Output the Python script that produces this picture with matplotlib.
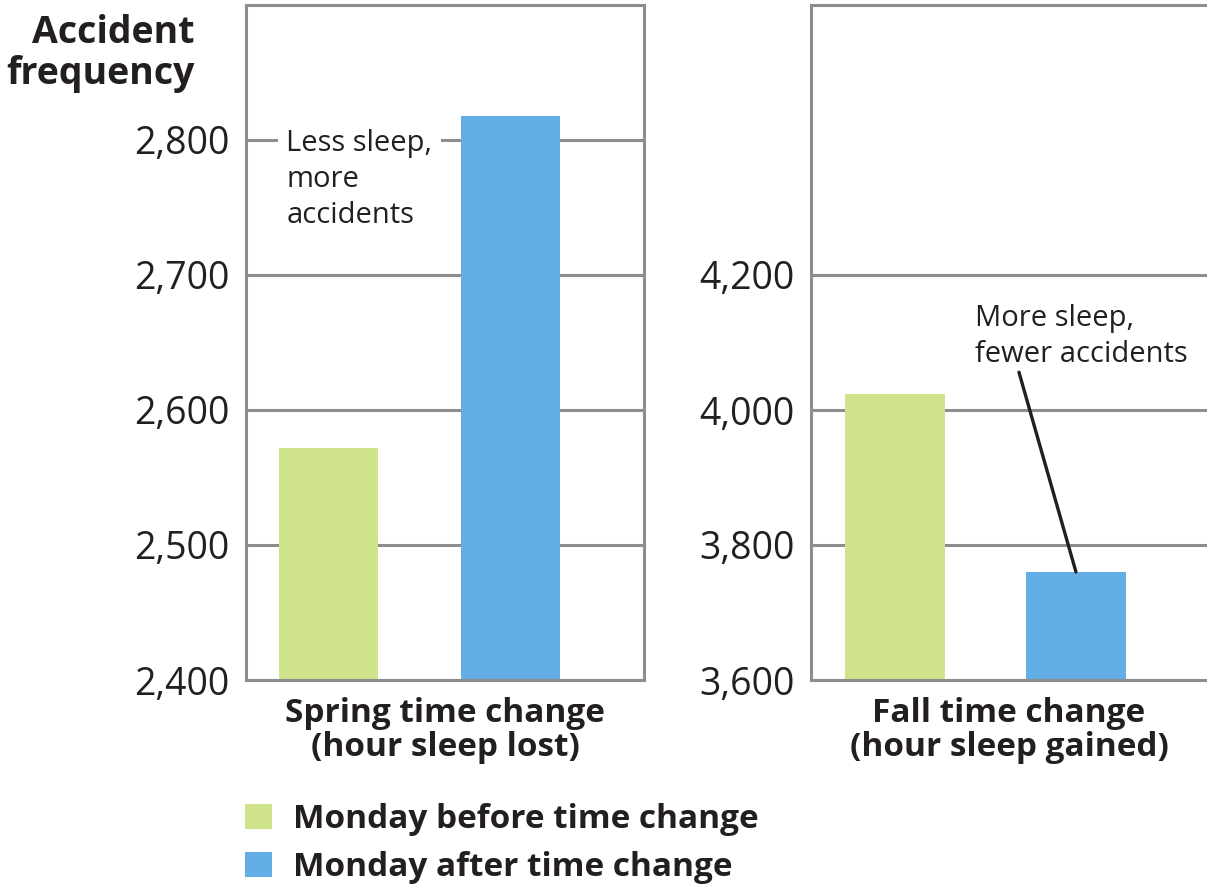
import matplotlib.pyplot as plt
from matplotlib.ticker import FuncFormatter

# accident counts on the Monday before / after each clock change
groups = ["Monday before time change", "Monday after time change"]
spring_counts = [2572, 2818]
fall_counts = [4024, 3760]
spring_ticks = [2400, 2500, 2600, 2700, 2800]
fall_ticks = [3600, 3800, 4000, 4200]

green = "#cfe38b"
blue = "#63aee6"
grey = "#8d8d8d"
ink = "#231f20"

plt.rcParams["font.family"] = ["Open Sans", "DejaVu Sans"]

W, H = 1207, 886
fig = plt.figure(figsize=(W / 100, H / 100), dpi=100)

ax1 = fig.add_axes([246 / W, 1 - 680 / H, (644 - 246) / W, 675 / H])
ax2 = fig.add_axes([811 / W, 1 - 680 / H, (W - 811) / W, 675 / H])

comma = FuncFormatter(lambda v, p: f"{int(v):,}")


def style(ax, ticks, ylim, xlim):
    ax.set_ylim(*ylim)
    ax.set_xlim(*xlim)
    ax.set_yticks(ticks)
    ax.yaxis.set_major_formatter(comma)
    ax.set_xticks([])
    ax.tick_params(axis="y", length=0, pad=12, labelsize=27, labelcolor=ink)
    ax.grid(axis="y", color=grey, linewidth=2.2)
    ax.set_axisbelow(True)
    for s in ax.spines.values():
        s.set_color(grey)
        s.set_linewidth(2.2)


style(ax1, spring_ticks, (2400, 2900), (-0.455, 1.738))
style(ax2, fall_ticks, (3600, 4600), (-0.464, 1.724))
ax2.spines["right"].set_visible(False)

bars = ax1.bar([0, 1], spring_counts, width=0.545, color=[green, blue], zorder=2)
ax2.bar([0, 1], fall_counts, width=0.55, color=[green, blue], zorder=2)

xlab = dict(fontsize=24, fontweight="bold", color=ink, linespacing=1.05, labelpad=12)
ax1.set_xlabel("Spring time change\n(hour sleep lost)", **xlab)
ax2.set_xlabel("Fall time change\n(hour sleep gained)", **xlab)

fig.text(195 / W, 1 - 14 / H, "Accident\nfrequency", ha="right", va="top",
         fontsize=27, fontweight="bold", color=ink, linespacing=1.12)

# callouts
ax1.text(-0.232, 2808, "Less sleep,\nmore\naccidents", ha="left", va="top",
         fontsize=21, color=ink, linespacing=1.31,
         bbox=dict(facecolor="white", edgecolor="none", pad=6), zorder=3)
ax2.text(0.442, 4157, "More sleep,\nfewer accidents", ha="left", va="top",
         fontsize=21, color=ink, linespacing=1.31)
ax2.annotate("", xy=(1.0, fall_counts[1]), xytext=(0.685, 4056),
             arrowprops=dict(arrowstyle="-", color=ink, lw=2.4,
                             shrinkA=0, shrinkB=0))

fig.legend(handles=[bars[0], bars[1]], labels=groups, loc="upper left",
           bbox_to_anchor=(245 / W, 1 - 803 / H), frameon=False,
           prop=dict(size=24, weight="bold"), labelcolor=ink,
           handlelength=0.81, handleheight=0.81, handletextpad=0.63,
           labelspacing=0.45, borderpad=0, borderaxespad=0)

fig.savefig("out.png", dpi=100)
